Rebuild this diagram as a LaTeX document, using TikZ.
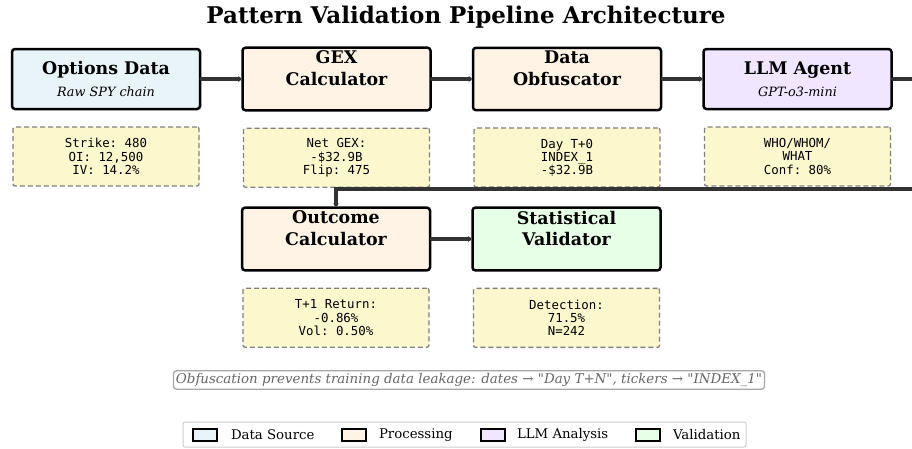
\documentclass[tikz,border=0pt]{standalone}
\usepackage{fontspec}
\setmainfont{DejaVu Serif}
\setmonofont{DejaVu Sans Mono}
\usepackage{xcolor}
\usetikzlibrary{shapes,arrows.meta,positioning}

\definecolor{srcfill}{HTML}{E8F4F8}
\definecolor{procfill}{HTML}{FFF3E6}
\definecolor{llmfill}{HTML}{F0E6FF}
\definecolor{valfill}{HTML}{E6FFE6}
\definecolor{notefill}{HTML}{FDF7CE}
\definecolor{linegray}{HTML}{333333}

\begin{document}
\begin{tikzpicture}[x=1pt, y=-1pt, node distance=40pt]
            \tikzstyle{stage} = [rectangle, draw, line width=2.5pt, rounded corners=3pt, minimum width=188pt, minimum height=60pt, align=center, font=\fontsize{17.4}{21.5}\selectfont\bfseries]
            \tikzstyle{note} = [rectangle, draw=gray, dash pattern=on 5pt off 3pt, line width=1.3pt, fill=notefill, rounded corners=2pt, minimum width=186pt, minimum height=59pt, align=center, font=\fontsize{12.4}{13.2}\selectfont\ttfamily]
            \tikzstyle{arrow} = [line width=3.5pt, color=linegray, line cap=round, -{Stealth[length=3pt,width=6pt]}]
            \tikzstyle{patch} = [rectangle, draw, line width=1.6pt, minimum width=24pt, minimum height=12pt, inner sep=0pt]
            \tikzstyle{legtext} = [font=\fontsize{13.3}{15}\selectfont, inner sep=0pt]

            \useasboundingbox (0,0) rectangle (912,448);
            \clip (0,0) rectangle (912,448);

            % Title
            \node [font=\fontsize{23}{26}\selectfont\bfseries] (title) at (466,17) {Pattern Validation Pipeline Architecture};

            % Stages
            \node [stage, fill=srcfill] (src) at (106,79) {Options Data\\{\fontsize{12.8}{21.5}\selectfont\itshape\mdseries Raw SPY chain}};
            \node [stage, fill=procfill, right=of src] (gex) {GEX\\Calculator\\\mbox{}};
            \node [stage, fill=procfill, right=of gex] (obf) {Data\\Obfuscator\\\mbox{}};
            \node [stage, fill=llmfill, right=of obf] (llm) {LLM Agent\\{\fontsize{12.8}{21.5}\selectfont\itshape\mdseries GPT-o3-mini}};
            \node [stage, fill=procfill] (outcome) at (336,239) {Outcome\\Calculator\\\mbox{}};
            \node [stage, fill=valfill, right=of outcome] (stat) {Statistical\\Validator\\\mbox{}};

            % Notes
            \node [note, below=16pt of src] (srcnote) {Strike: 480\\OI: 12,500\\IV: 14.2\%};
            \node [note, below=16pt of gex] (gexnote) {Net GEX:\\-\$32.9B\\Flip: 475};
            \node [note, below=16pt of obf] (obfnote) {Day T+0\\INDEX\_1\\-\$32.9B};
            \node [note, below=16pt of llm] (llmnote) {WHO/WHOM/\\WHAT\\Conf: 80\%};
            \node [note, below=16pt of outcome] (outnote) {T+1 Return:\\-0.86\%\\Vol: 0.50\%};
            \node [note, below=16pt of stat] (statnote) {Detection:\\71.5\%\\N=242};

            % Arrows
            \draw [arrow] (src) -- (gex);
            \draw [arrow] (gex) -- (obf);
            \draw [arrow] (obf) -- (llm);
            \draw [arrow] (llm.east) -- ++(30,0) -- ++(0,110) -| (outcome.north);
            \draw [arrow] (outcome) -- (stat);

            % Caption
            \node [draw=gray!70, line width=1.3pt, rounded corners=3pt, inner sep=2.5pt, text=black!60, font=\fontsize{13.4}{15}\selectfont\itshape] (caption) at (469,380) {Obfuscation prevents training data leakage: dates → \textquotedbl Day T+N\textquotedbl, tickers → \textquotedbl INDEX\_1\textquotedbl};

            % Legend
            \node [draw=gray!40, line width=1pt, rounded corners=2pt, minimum width=563pt, minimum height=25pt] (legend) at (464.5,434.5) {};
            \node [patch, fill=srcfill] (lsrc) at (205,435) {};
            \node [legtext, right=13pt of lsrc] {Data Source};
            \node [patch, fill=procfill] (lproc) at (354,435) {};
            \node [legtext, right=12pt of lproc] {Processing};
            \node [patch, fill=llmfill] (lllm) at (493,435) {};
            \node [legtext, right=11pt of lllm] {LLM Analysis};
            \node [patch, fill=valfill] (lval) at (648,435) {};
            \node [legtext, right=12pt of lval] {Validation};
        \end{tikzpicture}
\end{document}
